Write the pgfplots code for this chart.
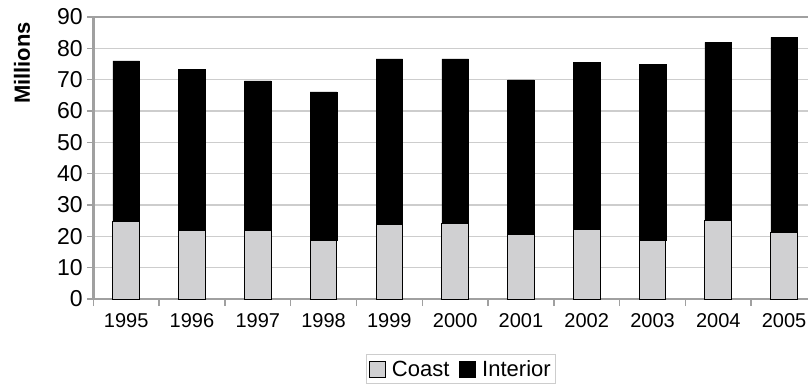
\documentclass[border=0pt]{standalone}
\usepackage{pgfplots}
\pgfplotsset{compat=1.18}
\usepackage{fontspec}
\setmainfont{Liberation Sans}
\definecolor{coast}{RGB}{208,208,210}
\definecolor{gridc}{RGB}{205,205,205}
\definecolor{axc}{RGB}{160,160,160}
\begin{document}
\begin{tikzpicture}
\path[use as bounding box, clip] (-93.3pt,-90pt) rectangle (714.7pt,299pt);
\begin{axis}[
  scale only axis, width=723.7pt, height=282pt,
  ymin=0, ymax=90, ytick={0,10,...,90},
  xmin=-0.5, xmax=10.5,
  xtick={0,...,10},
  xticklabels={1995,1996,1997,1998,1999,2000,2001,2002,2003,2004,2005},
  minor xtick={-0.5,0.5,...,10.5},
  xtick pos=bottom, ytick pos=left,
  xtick style={draw=none},
  minor x tick style={draw=axc, line width=1.5pt},
  minor tick length=7pt,
  ytick style={draw=axc, line width=1.5pt},
  major tick length=6pt,
  tick align=outside,
  ymajorgrids,
  grid style={draw=gridc, line width=1.5pt},
  axis line style={draw=axc, line width=2.5pt},
  /pgf/number format/assume math mode=true,
  yticklabel style={font=\fontsize{23}{26}\selectfont, xshift=-1pt},
  xticklabel style={font=\fontsize{20}{23}\selectfont, yshift=-5pt},
  ylabel={Millions},
  ylabel style={at={(axis description cs:-0.0985,0.837)}, anchor=center,
    font=\fontsize{22}{24}\selectfont\bfseries},
  ybar stacked, bar width=26.7pt,
  legend columns=2,
  legend style={at={(axis description cs:0.508,-0.195)}, anchor=north,
    draw=gridc, line width=1pt, font=\fontsize{22}{25}\selectfont,
    inner xsep=3pt, inner ysep=4pt,
    /tikz/every even column/.append style={column sep=8pt}},
  legend image code/.code={\draw[#1, line width=0.8pt] (0pt,-8pt) rectangle (16pt,8pt);},
]
\addplot[fill=coast, draw=black, line width=1pt] coordinates {
  (0,24.7) (1,22.0) (2,22.0) (3,18.6) (4,23.7) (5,24.2)
  (6,20.6) (7,22.1) (8,18.6) (9,25.1) (10,21.2)};
\addlegendentry{\hspace{4pt}Coast}
\addplot[fill=black, draw=black, line width=0.5pt] coordinates {
  (0,51.3) (1,51.4) (2,47.6) (3,47.5) (4,52.9) (5,52.4)
  (6,49.3) (7,53.4) (8,56.3) (9,56.8) (10,62.3)};
\addlegendentry{\hspace{4pt}Interior}
\end{axis}
\end{tikzpicture}
\end{document}
